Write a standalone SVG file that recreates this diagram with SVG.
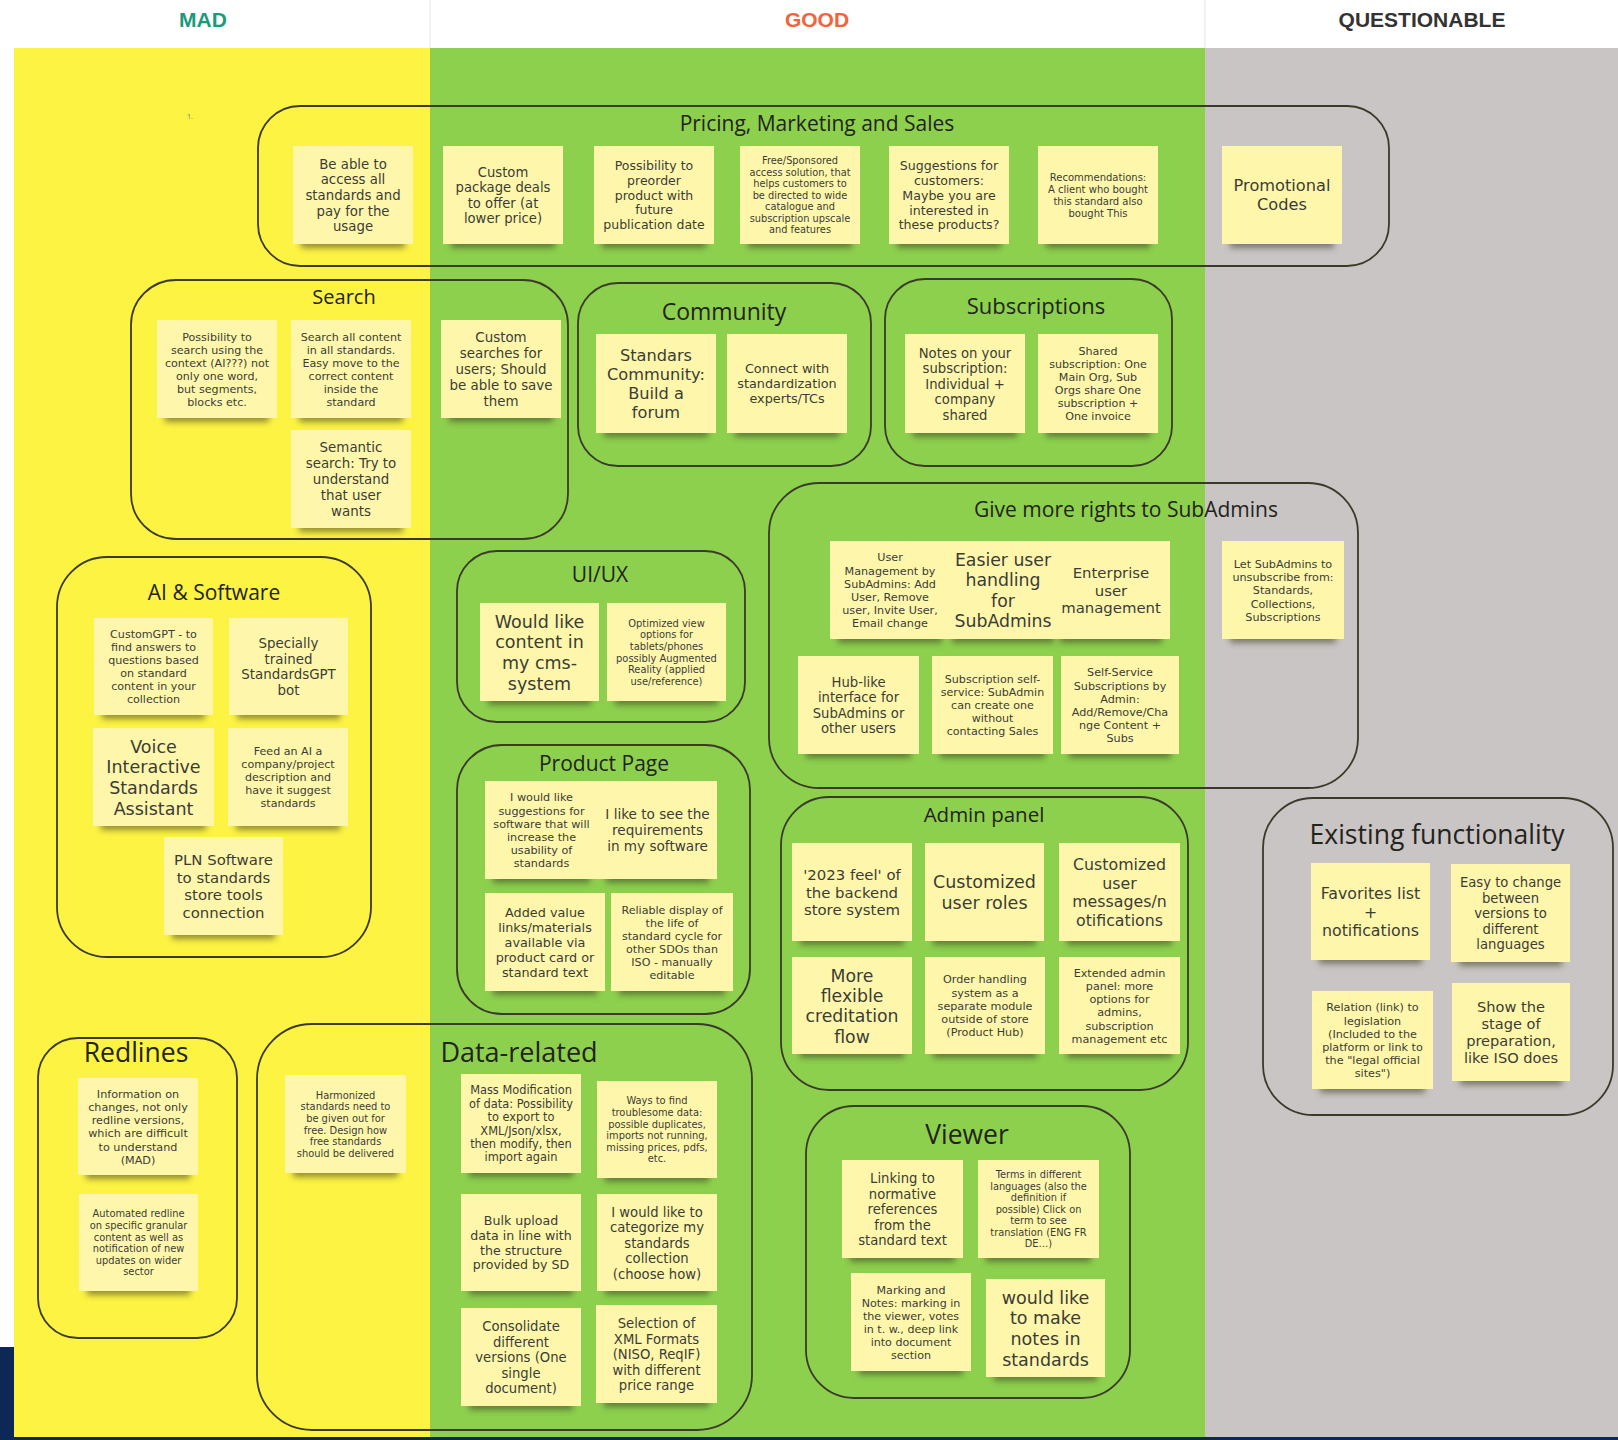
<svg xmlns="http://www.w3.org/2000/svg" width="1618" height="1440" viewBox="0 0 1618 1440">
<defs>
<filter id="sh" x="-20%" y="-150%" width="140%" height="400%"><feGaussianBlur stdDeviation="3"/></filter>
<style>
.frame{fill:none;stroke:#3b3a28;stroke-width:1.8}
.ttl{font-family:"Open Sans","Noto Sans",sans-serif;fill:#23231c;text-anchor:middle}
.note{fill:#fef7ab}
.shd{fill:#3a3a20;opacity:.55;filter:url(#sh)}
.tx{font-family:"DejaVu Sans","Open Sans",sans-serif;fill:#3c3c36;text-anchor:middle}
.hd{font-family:"Liberation Sans",Arial,sans-serif;font-weight:bold;font-size:21px;text-anchor:middle}
</style>
</defs>
<rect x="0" y="0" width="1618" height="1440" fill="#ffffff"/>
<g id="columns">
<rect x="14" y="48" width="416" height="1389" fill="#fdf343"/>
<rect x="430" y="48" width="775" height="1389" fill="#8dd04e"/>
<rect x="1205" y="48" width="413" height="1389" fill="#c9c5c5"/>
<line x1="430" y1="0" x2="430" y2="48" stroke="#eeeeee" stroke-width="1.5"/>
<line x1="1205" y1="0" x2="1205" y2="48" stroke="#eeeeee" stroke-width="1.5"/>
<rect x="0" y="1347" width="14" height="93" fill="#0b2856"/>
<rect x="0" y="1437" width="1618" height="3" fill="#0b2856"/>
<text class="hd" x="203" y="27" fill="#1b9a7c">MAD</text>
<text class="hd" x="817" y="27" fill="#f2643c">GOOD</text>
<text class="hd" x="1422" y="27" fill="#333333">QUESTIONABLE</text>
<text x="187" y="119" font-family="Open Sans, sans-serif" font-size="7" fill="#777">1.</text>
</g>
<g id="connectors"/>

<g id="grp-pricing"><rect class="frame" x="258" y="106" width="1131" height="160" rx="42"/><text class="ttl" x="817" y="131" font-size="21">Pricing, Marketing and Sales</text></g>
<g id="grp-search"><rect class="frame" x="131" y="280" width="437" height="259" rx="45"/><text class="ttl" x="344" y="304" font-size="20">Search</text></g>
<g id="grp-community"><rect class="frame" x="578" y="283" width="293" height="183" rx="40"/><text class="ttl" x="724" y="320" font-size="23">Community</text></g>
<g id="grp-subscriptions"><rect class="frame" x="885" y="279" width="287" height="187" rx="40"/><text class="ttl" x="1036" y="314" font-size="22">Subscriptions</text></g>
<g id="grp-subadmins"><rect class="frame" x="769" y="483" width="589" height="305" rx="50"/><text class="ttl" x="1126" y="517" font-size="21">Give more rights to SubAdmins</text></g>
<g id="grp-uiux"><rect class="frame" x="457" y="551" width="288" height="171" rx="40"/><text class="ttl" x="600" y="582" font-size="21">UI/UX</text></g>
<g id="grp-ai"><rect class="frame" x="57" y="557" width="314" height="400" rx="50"/><text class="ttl" x="214" y="600" font-size="21">AI &amp; Software</text></g>
<g id="grp-product"><rect class="frame" x="457" y="745" width="293" height="269" rx="45"/><text class="ttl" x="604" y="771" font-size="21">Product Page</text></g>
<g id="grp-admin"><rect class="frame" x="781" y="797" width="407" height="293" rx="48"/><text class="ttl" x="984" y="822" font-size="20.5">Admin panel</text></g>
<g id="grp-existing"><rect class="frame" x="1263" y="798" width="350" height="317" rx="50"/><text class="ttl" x="1437" y="844" font-size="26.5">Existing functionality</text></g>
<g id="grp-viewer"><rect class="frame" x="806" y="1106" width="324" height="292" rx="48"/><text class="ttl" x="967" y="1144" font-size="26.5">Viewer</text></g>
<g id="grp-redlines"><rect class="frame" x="38" y="1038" width="199" height="300" rx="40"/><text class="ttl" x="136" y="1062" font-size="26.5">Redlines</text></g>
<g id="grp-data"><rect class="frame" x="257" y="1024" width="495" height="406" rx="55"/><text class="ttl" x="519" y="1062" font-size="27">Data-related</text></g>

<g id="n-p1"><rect class="shd" x="301" y="236" width="104" height="12"/><rect class="note" x="293" y="146" width="120" height="98"/><text class="tx" x="353" y="168.8" font-size="13.3"><tspan x="353">Be able to</tspan><tspan x="353" dy="15.6">access all</tspan><tspan x="353" dy="15.6">standards and</tspan><tspan x="353" dy="15.6">pay for the</tspan><tspan x="353" dy="15.6">usage</tspan></text></g>
<g id="n-p2"><rect class="shd" x="451" y="236" width="104" height="12"/><rect class="note" x="443" y="146" width="120" height="98"/><text class="tx" x="503" y="176.7" font-size="13.2"><tspan x="503">Custom</tspan><tspan x="503" dy="15.5">package deals</tspan><tspan x="503" dy="15.5">to offer (at</tspan><tspan x="503" dy="15.5">lower price)</tspan></text></g>
<g id="n-p3"><rect class="shd" x="602" y="236" width="104" height="12"/><rect class="note" x="594" y="146" width="120" height="98"/><text class="tx" x="654" y="170.3" font-size="12.5"><tspan x="654">Possibility to</tspan><tspan x="654" dy="14.7">preorder</tspan><tspan x="654" dy="14.7">product with</tspan><tspan x="654" dy="14.7">future</tspan><tspan x="654" dy="14.7">publication date</tspan></text></g>
<g id="n-p4"><rect class="shd" x="748" y="236" width="104" height="12"/><rect class="note" x="740" y="146" width="120" height="98"/><text class="tx" x="800" y="164.2" font-size="9.8"><tspan x="800">Free/Sponsored</tspan><tspan x="800" dy="11.5">access solution, that</tspan><tspan x="800" dy="11.5">helps customers to</tspan><tspan x="800" dy="11.5">be directed to wide</tspan><tspan x="800" dy="11.5">catalogue and</tspan><tspan x="800" dy="11.5">subscription upscale</tspan><tspan x="800" dy="11.5">and features</tspan></text></g>
<g id="n-p5"><rect class="shd" x="897" y="236" width="104" height="12"/><rect class="note" x="889" y="146" width="120" height="98"/><text class="tx" x="949" y="170.2" font-size="12.6"><tspan x="949">Suggestions for</tspan><tspan x="949" dy="14.8">customers:</tspan><tspan x="949" dy="14.8">Maybe you are</tspan><tspan x="949" dy="14.8">interested in</tspan><tspan x="949" dy="14.8">these products?</tspan></text></g>
<g id="n-p6"><rect class="shd" x="1046" y="236" width="104" height="12"/><rect class="note" x="1038" y="146" width="120" height="98"/><text class="tx" x="1098" y="181.1" font-size="10"><tspan x="1098">Recommendations:</tspan><tspan x="1098" dy="11.8">A client who bought</tspan><tspan x="1098" dy="11.8">this standard also</tspan><tspan x="1098" dy="11.8">bought This</tspan></text></g>
<g id="n-p7"><rect class="shd" x="1230" y="236" width="104" height="12"/><rect class="note" x="1222" y="146" width="120" height="98"/><text class="tx" x="1282" y="191.4" font-size="16.2"><tspan x="1282">Promotional</tspan><tspan x="1282" dy="19">Codes</tspan></text></g>

<g id="n-s1"><rect class="shd" x="165" y="410" width="104" height="12"/><rect class="note" x="157" y="320" width="120" height="98"/><text class="tx" x="217" y="340.7" font-size="11.1"><tspan x="217">Possibility to</tspan><tspan x="217" dy="13">search using the</tspan><tspan x="217" dy="13">context (AI???) not</tspan><tspan x="217" dy="13">only one word,</tspan><tspan x="217" dy="13">but segments,</tspan><tspan x="217" dy="13">blocks etc.</tspan></text></g>
<g id="n-s2"><rect class="shd" x="299" y="410" width="104" height="12"/><rect class="note" x="291" y="320" width="120" height="98"/><text class="tx" x="351" y="340.7" font-size="11.1"><tspan x="351">Search all content</tspan><tspan x="351" dy="13">in all standards.</tspan><tspan x="351" dy="13">Easy move to the</tspan><tspan x="351" dy="13">correct content</tspan><tspan x="351" dy="13">inside the</tspan><tspan x="351" dy="13">standard</tspan></text></g>
<g id="n-s3"><rect class="shd" x="449" y="410" width="104" height="12"/><rect class="note" x="441" y="320" width="120" height="98"/><text class="tx" x="501" y="342.4" font-size="13.4"><tspan x="501">Custom</tspan><tspan x="501" dy="15.8">searches for</tspan><tspan x="501" dy="15.8">users; Should</tspan><tspan x="501" dy="15.8">be able to save</tspan><tspan x="501" dy="15.8">them</tspan></text></g>
<g id="n-s4"><rect class="shd" x="299" y="520" width="104" height="12"/><rect class="note" x="291" y="430" width="120" height="98"/><text class="tx" x="351" y="452.4" font-size="13.4"><tspan x="351">Semantic</tspan><tspan x="351" dy="15.8">search: Try to</tspan><tspan x="351" dy="15.8">understand</tspan><tspan x="351" dy="15.8">that user</tspan><tspan x="351" dy="15.8">wants</tspan></text></g>

<g id="n-c1"><rect class="shd" x="604" y="425" width="104" height="12"/><rect class="note" x="596" y="334" width="120" height="99"/><text class="tx" x="656" y="361.1" font-size="16.2"><tspan x="656">Standars</tspan><tspan x="656" dy="19">Community:</tspan><tspan x="656" dy="19">Build a</tspan><tspan x="656" dy="19">forum</tspan></text></g>
<g id="n-c2"><rect class="shd" x="735" y="425" width="104" height="12"/><rect class="note" x="727" y="334" width="120" height="99"/><text class="tx" x="787" y="373.3" font-size="12.8"><tspan x="787">Connect with</tspan><tspan x="787" dy="15">standardization</tspan><tspan x="787" dy="15">experts/TCs</tspan></text></g>
<g id="n-b1"><rect class="shd" x="913" y="425" width="104" height="12"/><rect class="note" x="905" y="334" width="120" height="99"/><text class="tx" x="965" y="357.5" font-size="13.2"><tspan x="965">Notes on your</tspan><tspan x="965" dy="15.5">subscription:</tspan><tspan x="965" dy="15.5">Individual +</tspan><tspan x="965" dy="15.5">company</tspan><tspan x="965" dy="15.5">shared</tspan></text></g>
<g id="n-b2"><rect class="shd" x="1046" y="425" width="104" height="12"/><rect class="note" x="1038" y="334" width="120" height="99"/><text class="tx" x="1098" y="355.2" font-size="11.1"><tspan x="1098">Shared</tspan><tspan x="1098" dy="13">subscription: One</tspan><tspan x="1098" dy="13">Main Org, Sub</tspan><tspan x="1098" dy="13">Orgs share One</tspan><tspan x="1098" dy="13">subscription +</tspan><tspan x="1098" dy="13">One invoice</tspan></text></g>

<g id="n-g1"><rect class="shd" x="838" y="631" width="104" height="12"/><rect class="note" x="830" y="541" width="120" height="98"/><text class="tx" x="890" y="561.3" font-size="11.2"><tspan x="890">User</tspan><tspan x="890" dy="13.2">Management by</tspan><tspan x="890" dy="13.2">SubAdmins: Add</tspan><tspan x="890" dy="13.2">User, Remove</tspan><tspan x="890" dy="13.2">user, Invite User,</tspan><tspan x="890" dy="13.2">Email change</tspan></text></g>
<g id="n-g2"><rect class="shd" x="952" y="631" width="102" height="12"/><rect class="note" x="944" y="541" width="118" height="98"/><text class="tx" x="1003" y="566.1" font-size="17.3"><tspan x="1003">Easier user</tspan><tspan x="1003" dy="20.3">handling</tspan><tspan x="1003" dy="20.3">for</tspan><tspan x="1003" dy="20.3">SubAdmins</tspan></text></g>
<g id="n-g3"><rect class="shd" x="1060" y="631" width="102" height="12"/><rect class="note" x="1052" y="541" width="118" height="98"/><text class="tx" x="1111" y="578.1" font-size="14.9"><tspan x="1111">Enterprise</tspan><tspan x="1111" dy="17.5">user</tspan><tspan x="1111" dy="17.5">management</tspan></text></g>
<g id="n-g4"><rect class="shd" x="1230" y="631" width="106" height="12"/><rect class="note" x="1222" y="541" width="122" height="98"/><text class="tx" x="1283" y="567.9" font-size="11.2"><tspan x="1283">Let SubAdmins to</tspan><tspan x="1283" dy="13.2">unsubscribe from:</tspan><tspan x="1283" dy="13.2">Standards,</tspan><tspan x="1283" dy="13.2">Collections,</tspan><tspan x="1283" dy="13.2">Subscriptions</tspan></text></g>
<g id="n-g5"><rect class="shd" x="806" y="746" width="105" height="12"/><rect class="note" x="798" y="656" width="121" height="98"/><text class="tx" x="858.5" y="686.7" font-size="13.2"><tspan x="858.5">Hub-like</tspan><tspan x="858.5" dy="15.5">interface for</tspan><tspan x="858.5" dy="15.5">SubAdmins or</tspan><tspan x="858.5" dy="15.5">other users</tspan></text></g>
<g id="n-g6"><rect class="shd" x="940" y="746" width="105" height="12"/><rect class="note" x="932" y="656" width="121" height="98"/><text class="tx" x="992.5" y="683.2" font-size="11.1"><tspan x="992.5">Subscription self-</tspan><tspan x="992.5" dy="13">service: SubAdmin</tspan><tspan x="992.5" dy="13">can create one</tspan><tspan x="992.5" dy="13">without</tspan><tspan x="992.5" dy="13">contacting Sales</tspan></text></g>
<g id="n-g7"><rect class="shd" x="1069" y="746" width="102" height="12"/><rect class="note" x="1061" y="656" width="118" height="98"/><text class="tx" x="1120" y="676.3" font-size="11.2"><tspan x="1120">Self-Service</tspan><tspan x="1120" dy="13.2">Subscriptions by</tspan><tspan x="1120" dy="13.2">Admin:</tspan><tspan x="1120" dy="13.2">Add/Remove/Cha</tspan><tspan x="1120" dy="13.2">nge Content +</tspan><tspan x="1120" dy="13.2">Subs</tspan></text></g>

<g id="n-u1"><rect class="shd" x="488" y="693" width="103" height="12"/><rect class="note" x="480" y="603" width="119" height="98"/><text class="tx" x="539.5" y="627.7" font-size="17.5"><tspan x="539.5">Would like</tspan><tspan x="539.5" dy="20.6">content in</tspan><tspan x="539.5" dy="20.6">my cms-</tspan><tspan x="539.5" dy="20.6">system</tspan></text></g>
<g id="n-u2"><rect class="shd" x="615" y="693" width="103" height="12"/><rect class="note" x="607" y="603" width="119" height="98"/><text class="tx" x="666.5" y="626.7" font-size="9.9"><tspan x="666.5">Optimized view</tspan><tspan x="666.5" dy="11.6">options for</tspan><tspan x="666.5" dy="11.6">tablets/phones</tspan><tspan x="666.5" dy="11.6">possibly Augmented</tspan><tspan x="666.5" dy="11.6">Reality (applied</tspan><tspan x="666.5" dy="11.6">use/reference)</tspan></text></g>

<g id="n-a1"><rect class="shd" x="102" y="707" width="103" height="12"/><rect class="note" x="94" y="618" width="119" height="97"/><text class="tx" x="153.5" y="638.2" font-size="11.1"><tspan x="153.5">CustomGPT - to</tspan><tspan x="153.5" dy="13">find answers to</tspan><tspan x="153.5" dy="13">questions based</tspan><tspan x="153.5" dy="13">on standard</tspan><tspan x="153.5" dy="13">content in your</tspan><tspan x="153.5" dy="13">collection</tspan></text></g>
<g id="n-a2"><rect class="shd" x="237" y="707" width="103" height="12"/><rect class="note" x="229" y="618" width="119" height="97"/><text class="tx" x="288.5" y="647.8" font-size="13.4"><tspan x="288.5">Specially</tspan><tspan x="288.5" dy="15.8">trained</tspan><tspan x="288.5" dy="15.8">StandardsGPT</tspan><tspan x="288.5" dy="15.8">bot</tspan></text></g>
<g id="n-a3"><rect class="shd" x="101" y="818" width="105" height="12"/><rect class="note" x="93" y="728" width="121" height="98"/><text class="tx" x="153.5" y="752.7" font-size="17.5"><tspan x="153.5">Voice</tspan><tspan x="153.5" dy="20.6">Interactive</tspan><tspan x="153.5" dy="20.6">Standards</tspan><tspan x="153.5" dy="20.6">Assistant</tspan></text></g>
<g id="n-a4"><rect class="shd" x="236" y="818" width="104" height="12"/><rect class="note" x="228" y="728" width="120" height="98"/><text class="tx" x="288" y="755.2" font-size="11.1"><tspan x="288">Feed an AI a</tspan><tspan x="288" dy="13">company/project</tspan><tspan x="288" dy="13">description and</tspan><tspan x="288" dy="13">have it suggest</tspan><tspan x="288" dy="13">standards</tspan></text></g>
<g id="n-a5"><rect class="shd" x="172" y="927" width="103" height="12"/><rect class="note" x="164" y="837" width="119" height="98"/><text class="tx" x="223.5" y="865.4" font-size="14.9"><tspan x="223.5">PLN Software</tspan><tspan x="223.5" dy="17.5">to standards</tspan><tspan x="223.5" dy="17.5">store tools</tspan><tspan x="223.5" dy="17.5">connection</tspan></text></g>

<g id="n-r1"><rect class="shd" x="493" y="871" width="97" height="12"/><rect class="note" x="485" y="781" width="113" height="98"/><text class="tx" x="541.5" y="801.3" font-size="11.2"><tspan x="541.5">I would like</tspan><tspan x="541.5" dy="13.2">suggestions for</tspan><tspan x="541.5" dy="13.2">software that will</tspan><tspan x="541.5" dy="13.2">increase the</tspan><tspan x="541.5" dy="13.2">usability of</tspan><tspan x="541.5" dy="13.2">standards</tspan></text></g>
<g id="n-r2"><rect class="shd" x="606" y="871" width="103" height="12"/><rect class="note" x="598" y="781" width="119" height="98"/><text class="tx" x="657.5" y="819.1" font-size="13.6"><tspan x="657.5">I like to see the</tspan><tspan x="657.5" dy="16">requirements</tspan><tspan x="657.5" dy="16">in my software</tspan></text></g>
<g id="n-r3"><rect class="shd" x="493" y="983" width="104" height="12"/><rect class="note" x="485" y="893" width="120" height="98"/><text class="tx" x="545" y="916.8" font-size="12.8"><tspan x="545">Added value</tspan><tspan x="545" dy="15">links/materials</tspan><tspan x="545" dy="15">available via</tspan><tspan x="545" dy="15">product card or</tspan><tspan x="545" dy="15">standard text</tspan></text></g>
<g id="n-r4"><rect class="shd" x="619" y="983" width="106" height="12"/><rect class="note" x="611" y="893" width="122" height="98"/><text class="tx" x="672" y="913.7" font-size="11.1"><tspan x="672">Reliable display of</tspan><tspan x="672" dy="13">the life of</tspan><tspan x="672" dy="13">standard cycle for</tspan><tspan x="672" dy="13">other SDOs than</tspan><tspan x="672" dy="13">ISO - manually</tspan><tspan x="672" dy="13">editable</tspan></text></g>

<g id="n-d1"><rect class="shd" x="800" y="933" width="104" height="12"/><rect class="note" x="792" y="843" width="120" height="98"/><text class="tx" x="852" y="880.1" font-size="14.9"><tspan x="852">'2023 feel' of</tspan><tspan x="852" dy="17.5">the backend</tspan><tspan x="852" dy="17.5">store system</tspan></text></g>
<g id="n-d2"><rect class="shd" x="933" y="933" width="103" height="12"/><rect class="note" x="925" y="843" width="119" height="98"/><text class="tx" x="984.5" y="888.3" font-size="17.5"><tspan x="984.5">Customized</tspan><tspan x="984.5" dy="20.6">user roles</tspan></text></g>
<g id="n-d3"><rect class="shd" x="1067" y="933" width="105" height="12"/><rect class="note" x="1059" y="843" width="121" height="98"/><text class="tx" x="1119.5" y="870.1" font-size="15.8"><tspan x="1119.5">Customized</tspan><tspan x="1119.5" dy="18.6">user</tspan><tspan x="1119.5" dy="18.6">messages/n</tspan><tspan x="1119.5" dy="18.6">otifications</tspan></text></g>
<g id="n-d4"><rect class="shd" x="800" y="1046" width="104" height="12"/><rect class="note" x="792" y="957" width="120" height="97"/><text class="tx" x="852" y="981.6" font-size="17.3"><tspan x="852">More</tspan><tspan x="852" dy="20.3">flexible</tspan><tspan x="852" dy="20.3">creditation</tspan><tspan x="852" dy="20.3">flow</tspan></text></g>
<g id="n-d5"><rect class="shd" x="933" y="1046" width="104" height="12"/><rect class="note" x="925" y="957" width="120" height="97"/><text class="tx" x="985" y="983.4" font-size="11.2"><tspan x="985">Order handling</tspan><tspan x="985" dy="13.2">system as a</tspan><tspan x="985" dy="13.2">separate module</tspan><tspan x="985" dy="13.2">outside of store</tspan><tspan x="985" dy="13.2">(Product Hub)</tspan></text></g>
<g id="n-d6"><rect class="shd" x="1067" y="1046" width="105" height="12"/><rect class="note" x="1059" y="957" width="121" height="97"/><text class="tx" x="1119.5" y="976.8" font-size="11.2"><tspan x="1119.5">Extended admin</tspan><tspan x="1119.5" dy="13.2">panel: more</tspan><tspan x="1119.5" dy="13.2">options for</tspan><tspan x="1119.5" dy="13.2">admins,</tspan><tspan x="1119.5" dy="13.2">subscription</tspan><tspan x="1119.5" dy="13.2">management etc</tspan></text></g>

<g id="n-e1"><rect class="shd" x="1319" y="952" width="103" height="12"/><rect class="note" x="1311" y="863" width="119" height="97"/><text class="tx" x="1370.5" y="898.9" font-size="15.8"><tspan x="1370.5">Favorites list</tspan><tspan x="1370.5" dy="18.6">+</tspan><tspan x="1370.5" dy="18.6">notifications</tspan></text></g>
<g id="n-e2"><rect class="shd" x="1459" y="954" width="103" height="12"/><rect class="note" x="1451" y="864" width="119" height="98"/><text class="tx" x="1510.5" y="887" font-size="13.2"><tspan x="1510.5">Easy to change</tspan><tspan x="1510.5" dy="15.5">between</tspan><tspan x="1510.5" dy="15.5">versions to</tspan><tspan x="1510.5" dy="15.5">different</tspan><tspan x="1510.5" dy="15.5">languages</tspan></text></g>
<g id="n-e3"><rect class="shd" x="1320" y="1081" width="105" height="12"/><rect class="note" x="1312" y="991" width="121" height="98"/><text class="tx" x="1372.5" y="1011.3" font-size="11.2"><tspan x="1372.5">Relation (link) to</tspan><tspan x="1372.5" dy="13.2">legislation</tspan><tspan x="1372.5" dy="13.2">(Included to the</tspan><tspan x="1372.5" dy="13.2">platform or link to</tspan><tspan x="1372.5" dy="13.2">the "legal official</tspan><tspan x="1372.5" dy="13.2">sites")</tspan></text></g>
<g id="n-e4"><rect class="shd" x="1460" y="1073" width="102" height="12"/><rect class="note" x="1452" y="983" width="118" height="98"/><text class="tx" x="1511" y="1011.7" font-size="14.6"><tspan x="1511">Show the</tspan><tspan x="1511" dy="17.2">stage of</tspan><tspan x="1511" dy="17.2">preparation,</tspan><tspan x="1511" dy="17.2">like ISO does</tspan></text></g>

<g id="n-v1"><rect class="shd" x="850" y="1250" width="105" height="12"/><rect class="note" x="842" y="1160" width="121" height="98"/><text class="tx" x="902.5" y="1183" font-size="13.2"><tspan x="902.5">Linking to</tspan><tspan x="902.5" dy="15.5">normative</tspan><tspan x="902.5" dy="15.5">references</tspan><tspan x="902.5" dy="15.5">from the</tspan><tspan x="902.5" dy="15.5">standard text</tspan></text></g>
<g id="n-v2"><rect class="shd" x="986" y="1250" width="105" height="12"/><rect class="note" x="978" y="1160" width="121" height="98"/><text class="tx" x="1038.5" y="1178.2" font-size="9.8"><tspan x="1038.5">Terms in different</tspan><tspan x="1038.5" dy="11.5">languages (also the</tspan><tspan x="1038.5" dy="11.5">definition if</tspan><tspan x="1038.5" dy="11.5">possible) Click on</tspan><tspan x="1038.5" dy="11.5">term to see</tspan><tspan x="1038.5" dy="11.5">translation (ENG FR</tspan><tspan x="1038.5" dy="11.5">DE…)</tspan></text></g>
<g id="n-v3"><rect class="shd" x="859" y="1363" width="104" height="12"/><rect class="note" x="851" y="1273" width="120" height="98"/><text class="tx" x="911" y="1293.7" font-size="11.1"><tspan x="911">Marking and</tspan><tspan x="911" dy="13">Notes: marking in</tspan><tspan x="911" dy="13">the viewer, votes</tspan><tspan x="911" dy="13">in t. w., deep link</tspan><tspan x="911" dy="13">into document</tspan><tspan x="911" dy="13">section</tspan></text></g>
<g id="n-v4"><rect class="shd" x="994" y="1369" width="103" height="12"/><rect class="note" x="986" y="1279" width="119" height="98"/><text class="tx" x="1045.5" y="1303.7" font-size="17.5"><tspan x="1045.5">would like</tspan><tspan x="1045.5" dy="20.6">to make</tspan><tspan x="1045.5" dy="20.6">notes in</tspan><tspan x="1045.5" dy="20.6">standards</tspan></text></g>

<g id="n-l1"><rect class="shd" x="86" y="1167" width="104" height="12"/><rect class="note" x="78" y="1078" width="120" height="97"/><text class="tx" x="138" y="1097.8" font-size="11.2"><tspan x="138">Information on</tspan><tspan x="138" dy="13.2">changes, not only</tspan><tspan x="138" dy="13.2">redline versions,</tspan><tspan x="138" dy="13.2">which are difficult</tspan><tspan x="138" dy="13.2">to understand</tspan><tspan x="138" dy="13.2">(MAD)</tspan></text></g>
<g id="n-l2"><rect class="shd" x="87" y="1283" width="103" height="12"/><rect class="note" x="79" y="1194" width="119" height="97"/><text class="tx" x="138.5" y="1217.3" font-size="9.9"><tspan x="138.5">Automated redline</tspan><tspan x="138.5" dy="11.6">on specific granular</tspan><tspan x="138.5" dy="11.6">content as well as</tspan><tspan x="138.5" dy="11.6">notification of new</tspan><tspan x="138.5" dy="11.6">updates on wider</tspan><tspan x="138.5" dy="11.6">sector</tspan></text></g>

<g id="n-h1"><rect class="shd" x="293" y="1165" width="105" height="12"/><rect class="note" x="285" y="1075" width="121" height="98"/><text class="tx" x="345.5" y="1098.8" font-size="9.9"><tspan x="345.5">Harmonized</tspan><tspan x="345.5" dy="11.6">standards need to</tspan><tspan x="345.5" dy="11.6">be given out for</tspan><tspan x="345.5" dy="11.6">free. Design how</tspan><tspan x="345.5" dy="11.6">free standards</tspan><tspan x="345.5" dy="11.6">should be delivered</tspan></text></g>
<g id="n-m1"><rect class="shd" x="469" y="1165" width="104" height="12"/><rect class="note" x="461" y="1074" width="120" height="99"/><text class="tx" x="521" y="1094.3" font-size="11.4"><tspan x="521">Mass Modification</tspan><tspan x="521" dy="13.4">of data: Possibility</tspan><tspan x="521" dy="13.4">to export to</tspan><tspan x="521" dy="13.4">XML/Json/xlsx,</tspan><tspan x="521" dy="13.4">then modify, then</tspan><tspan x="521" dy="13.4">import again</tspan></text></g>
<g id="n-w1"><rect class="shd" x="605" y="1170" width="104" height="12"/><rect class="note" x="597" y="1081" width="120" height="97"/><text class="tx" x="657" y="1104.3" font-size="9.9"><tspan x="657">Ways to find</tspan><tspan x="657" dy="11.6">troublesome data:</tspan><tspan x="657" dy="11.6">possible duplicates,</tspan><tspan x="657" dy="11.6">imports not running,</tspan><tspan x="657" dy="11.6">missing prices, pdfs,</tspan><tspan x="657" dy="11.6">etc.</tspan></text></g>
<g id="n-k1"><rect class="shd" x="469" y="1283" width="104" height="12"/><rect class="note" x="461" y="1194" width="120" height="97"/><text class="tx" x="521" y="1225" font-size="12.6"><tspan x="521">Bulk upload</tspan><tspan x="521" dy="14.8">data in line with</tspan><tspan x="521" dy="14.8">the structure</tspan><tspan x="521" dy="14.8">provided by SD</tspan></text></g>
<g id="n-k2"><rect class="shd" x="605" y="1283" width="104" height="12"/><rect class="note" x="597" y="1194" width="120" height="97"/><text class="tx" x="657" y="1216.5" font-size="13.2"><tspan x="657">I would like to</tspan><tspan x="657" dy="15.5">categorize my</tspan><tspan x="657" dy="15.5">standards</tspan><tspan x="657" dy="15.5">collection</tspan><tspan x="657" dy="15.5">(choose how)</tspan></text></g>
<g id="n-k3"><rect class="shd" x="469" y="1398" width="104" height="12"/><rect class="note" x="461" y="1308" width="120" height="98"/><text class="tx" x="521" y="1331" font-size="13.2"><tspan x="521">Consolidate</tspan><tspan x="521" dy="15.5">different</tspan><tspan x="521" dy="15.5">versions (One</tspan><tspan x="521" dy="15.5">single</tspan><tspan x="521" dy="15.5">document)</tspan></text></g>
<g id="n-k4"><rect class="shd" x="604" y="1395" width="105" height="12"/><rect class="note" x="596" y="1305" width="121" height="98"/><text class="tx" x="656.5" y="1328" font-size="13.2"><tspan x="656.5">Selection of</tspan><tspan x="656.5" dy="15.5">XML Formats</tspan><tspan x="656.5" dy="15.5">(NISO, ReqIF)</tspan><tspan x="656.5" dy="15.5">with different</tspan><tspan x="656.5" dy="15.5">price range</tspan></text></g>
</svg>
